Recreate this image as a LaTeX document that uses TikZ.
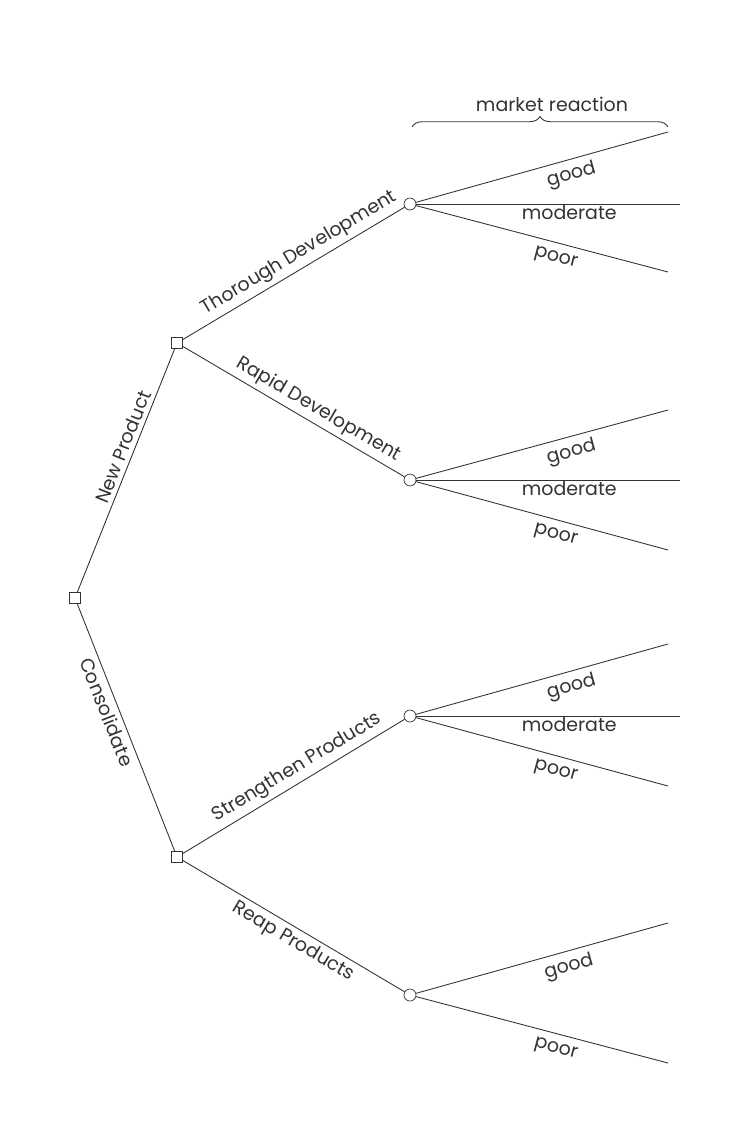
\documentclass[tikz,border=0pt]{standalone}
\usepackage{fontspec}
\setmainfont{Poppins}
\usetikzlibrary{decorations.pathreplacing}

\begin{document}
\begin{tikzpicture}[x=0.02cm, y=-0.02cm,
    decision/.style={draw=black!80, rectangle, fill=white, inner sep=0pt, minimum size=0.21cm},
    chance/.style={draw=black!80, circle, fill=white, inner sep=0pt, minimum size=0.24cm},
    branch/.style={draw=black!80, line width=0.5pt},
    lbl/.style={font=\fontsize{10.8}{12}\selectfont, text=black!80}]
    \useasboundingbox (0,0) rectangle (751,1127);

    \node[decision] (root) at (75,598) {};
    \node[decision] (newp) at (177,343) {};
    \node[decision] (cons) at (177,857) {};
    \node[chance] (thor) at (410,204) {};
    \node[chance] (rapid) at (410,480) {};
    \node[chance] (stren) at (410,716) {};
    \node[chance] (reap) at (410,995) {};

    \coordinate (thor-g) at (668,132);
    \coordinate (thor-m) at (680,204);
    \coordinate (thor-p) at (668,272);
    \coordinate (rapid-g) at (668,410);
    \coordinate (rapid-m) at (680,480);
    \coordinate (rapid-p) at (668,550);
    \coordinate (stren-g) at (668,644);
    \coordinate (stren-m) at (680,716);
    \coordinate (stren-p) at (668,786);
    \coordinate (reap-g) at (668,923);
    \coordinate (reap-p) at (668,1063);

    \draw[branch] (root) -- node[lbl, sloped, pos=0.58, above=-1pt] {New Product} (newp);
    \draw[branch] (root) -- node[lbl, sloped, pos=0.42, below=-1pt] {Consolidate} (cons);
    \draw[branch] (newp) -- node[lbl, sloped, pos=0.56, above=-1pt] {Thorough Development} (thor);
    \draw[branch] (newp) -- node[lbl, sloped, pos=0.58, above=-1pt] {Rapid Development} (rapid);
    \draw[branch] (cons) -- node[lbl, sloped, pos=0.55, above=-1pt] {Strengthen Products} (stren);
    \draw[branch] (cons) -- node[lbl, sloped, pos=0.53, below=-1pt] {Reap Products} (reap);

    \foreach \c in {thor, rapid, stren} {
        \draw[branch] (\c) -- node[lbl, sloped, pos=0.6, below=0pt] {good} (\c-g);
        \draw[branch] (\c) -- node[lbl, sloped, pos=0.58, below=-3pt] {moderate} (\c-m);
        \draw[branch] (\c) -- node[lbl, sloped, pos=0.57, below=1pt] {poor} (\c-p);
    }
    \draw[branch] (reap) -- node[lbl, sloped, pos=0.59, below=0pt] {good} (reap-g);
    \draw[branch] (reap) -- node[lbl, sloped, pos=0.57, below=1pt] {poor} (reap-p);

    % market reaction brace
    \coordinate (brL) at (412,127);
    \coordinate (brR) at (668,127);
    \draw[branch, decorate, decoration={brace, amplitude=6pt}] (brL) -- (brR);
    \node[lbl] (mr) at (552,104) {market reaction};
\end{tikzpicture}
\end{document}
